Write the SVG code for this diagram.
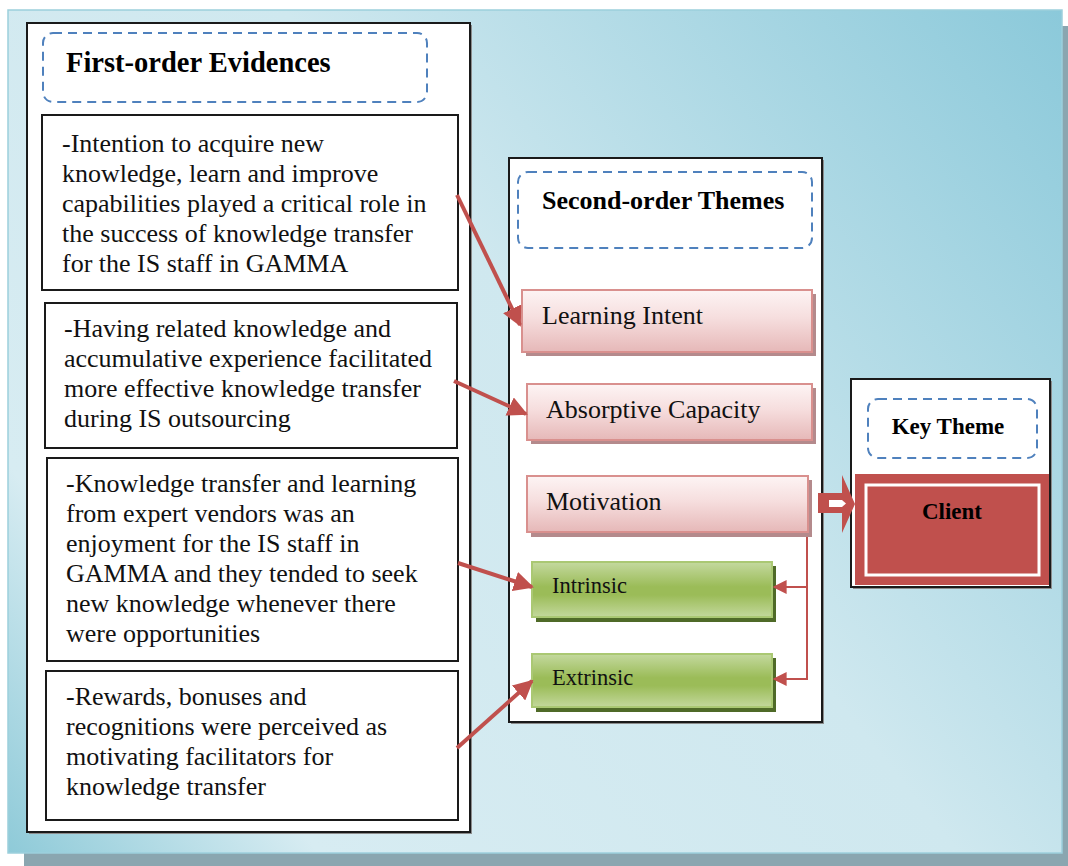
<svg xmlns="http://www.w3.org/2000/svg" width="1068" height="866" viewBox="0 0 1068 866">
  <defs>
    <linearGradient id="bg" gradientUnits="userSpaceOnUse" x1="1062" y1="10" x2="8" y2="853">
      <stop offset="0" stop-color="#8bc9da"/>
      <stop offset="0.45" stop-color="#cfe8ef"/>
      <stop offset="0.82" stop-color="#d7ecf2"/>
      <stop offset="1" stop-color="#8ecad8"/>
    </linearGradient>
    <linearGradient id="pink" x1="0" y1="0" x2="0" y2="1">
      <stop offset="0" stop-color="#fdf4f4"/>
      <stop offset="0.45" stop-color="#f6dede"/>
      <stop offset="1" stop-color="#e6b8b8"/>
    </linearGradient>
    <linearGradient id="green" x1="0" y1="0" x2="0" y2="1">
      <stop offset="0" stop-color="#c4d99f"/>
      <stop offset="0.45" stop-color="#9bbc58"/>
      <stop offset="0.6" stop-color="#9bbc58"/>
      <stop offset="1" stop-color="#c3d89c"/>
    </linearGradient>
    <marker id="head" viewBox="0 0 10 10" refX="9" refY="5" markerWidth="5" markerHeight="5" orient="auto" markerUnits="strokeWidth">
      <path d="M0,0 L10,5 L0,10 z" fill="#c0504d"/>
    </marker>
    <marker id="headThin" viewBox="0 0 10 10" refX="9" refY="5" markerWidth="7" markerHeight="7" orient="auto" markerUnits="strokeWidth">
      <path d="M0,0 L10,5 L0,10 z" fill="#c0504d"/>
    </marker>
    <style>
      .panel { fill: #ffffff; stroke: #1a1a1a; stroke-width: 2; }
      .evid { fill: #ffffff; stroke: #1a1a1a; stroke-width: 2; }
      .shade { fill: #8c8c8c; }
      .dash { fill: #ffffff; stroke: #4f81bd; stroke-width: 2; stroke-dasharray: 9 6; }
      .body { font-family: "Liberation Serif", "Times New Roman", serif; font-size: 26px; fill: #111111; }
      .small { font-size: 22.5px; }
      .head { font-family: "Liberation Serif", "Times New Roman", serif; font-weight: bold; fill: #000000; }
      .pinkbox { fill: url(#pink); stroke: #d9908e; stroke-width: 2; }
      .pinkshadow { fill: #b48a8c; }
      .greenbox { fill: url(#green); stroke: #aac873; stroke-width: 2; }
      .greenshadow { fill: #4f6a28; }
      .link { stroke: #c0504d; stroke-width: 4; fill: none; }
      .thin { stroke: #c0504d; stroke-width: 2; fill: none; }
    </style>
  </defs>

  <!-- background plate with drop shadow -->
  <rect x="24" y="26" width="1044" height="840" fill="#8aa6b0"/>
  <rect x="8" y="10" width="1054" height="843" fill="url(#bg)" stroke="#9ccfdc" stroke-width="1.5"/>

  <!-- first-order evidences column -->
  <g id="first-order">
    <rect x="29" y="25" width="443" height="809" class="shade"/>
    <rect x="27" y="23" width="443" height="809" class="panel"/>
    <rect x="43" y="33" width="384" height="69" rx="10" class="dash"/>
    <text x="66" y="72" class="head" font-size="28.5">First-order Evidences</text>
  </g>

  <g id="evidence-1">
    <rect x="42" y="115" width="416" height="175" class="evid"/>
    <text class="body">
      <tspan x="62" y="152">-Intention to acquire new</tspan>
      <tspan x="62" y="182">knowledge, learn and improve</tspan>
      <tspan x="62" y="212">capabilities played a critical role in</tspan>
      <tspan x="62" y="242">the success of knowledge transfer</tspan>
      <tspan x="62" y="272">for the IS staff in GAMMA</tspan>
    </text>
  </g>

  <g id="evidence-2">
    <rect x="45" y="303" width="412" height="145" class="evid"/>
    <text class="body">
      <tspan x="64" y="337">-Having related knowledge and</tspan>
      <tspan x="64" y="367">accumulative experience facilitated</tspan>
      <tspan x="64" y="397">more effective knowledge transfer</tspan>
      <tspan x="64" y="427">during IS outsourcing</tspan>
    </text>
  </g>

  <g id="evidence-3">
    <rect x="47" y="458" width="411" height="203" class="evid"/>
    <text class="body">
      <tspan x="66" y="492">-Knowledge transfer and learning</tspan>
      <tspan x="66" y="522">from expert vendors was an</tspan>
      <tspan x="66" y="552">enjoyment for the IS staff in</tspan>
      <tspan x="66" y="582">GAMMA and they tended to seek</tspan>
      <tspan x="66" y="612">new knowledge whenever there</tspan>
      <tspan x="66" y="642">were opportunities</tspan>
    </text>
  </g>

  <g id="evidence-4">
    <rect x="46" y="671" width="412" height="149" class="evid"/>
    <text class="body">
      <tspan x="66" y="705">-Rewards, bonuses and</tspan>
      <tspan x="66" y="735">recognitions were perceived as</tspan>
      <tspan x="66" y="765">motivating facilitators for</tspan>
      <tspan x="66" y="795">knowledge transfer</tspan>
    </text>
  </g>

  <!-- second-order themes column -->
  <g id="second-order">
    <rect x="511" y="160" width="313" height="564" class="shade"/>
    <rect x="509" y="158" width="313" height="564" class="panel"/>
    <rect x="518" y="172" width="294" height="76" rx="10" class="dash"/>
    <text x="542" y="209" class="head" font-size="26">Second-order Themes</text>
  </g>

  <g id="learning-intent">
    <rect x="526" y="294" width="290" height="62" class="pinkshadow"/>
    <rect x="522" y="290" width="290" height="62" class="pinkbox"/>
    <text x="542" y="324" class="body">Learning Intent</text>
  </g>

  <g id="absorptive-capacity">
    <rect x="531" y="388" width="285" height="56" class="pinkshadow"/>
    <rect x="527" y="384" width="285" height="56" class="pinkbox"/>
    <text x="546" y="418" class="body">Absorptive Capacity</text>
  </g>

  <g id="motivation">
    <rect x="531" y="480" width="281" height="57" class="pinkshadow"/>
    <rect x="527" y="476" width="281" height="56" class="pinkbox"/>
    <text x="546" y="510" class="body">Motivation</text>
  </g>

  <g id="intrinsic">
    <rect x="536" y="566" width="240" height="56" class="greenshadow"/>
    <rect x="532" y="562" width="240" height="55" class="greenbox"/>
    <text x="552" y="593" class="body small">Intrinsic</text>
  </g>

  <g id="extrinsic">
    <rect x="536" y="658" width="240" height="54" class="greenshadow"/>
    <rect x="532" y="654" width="240" height="53" class="greenbox"/>
    <text x="552" y="685" class="body small">Extrinsic</text>
  </g>

  <!-- key theme column -->
  <g id="key-theme">
    <rect x="853" y="381" width="199" height="208" class="shade"/>
    <rect x="851" y="379" width="199" height="208" class="panel"/>
    <rect x="868" y="399" width="169" height="59" rx="10" class="dash"/>
    <text x="948" y="434" class="head" font-size="23" text-anchor="middle">Key Theme</text>
  </g>

  <g id="client">
    <rect x="855" y="474" width="194" height="111" fill="#c0504d"/>
    <rect x="866" y="485" width="173" height="90" fill="none" stroke="#ffffff" stroke-width="3"/>
    <text x="952" y="519" class="head" font-size="23" text-anchor="middle">Client</text>
  </g>

  <!-- connectors -->
  <g id="connectors">
    <line x1="457" y1="195" x2="520" y2="325" class="link" marker-end="url(#head)"/>
    <line x1="454" y1="381" x2="526" y2="414" class="link" marker-end="url(#head)"/>
    <line x1="458" y1="563" x2="532" y2="587" class="link" marker-end="url(#head)"/>
    <line x1="457" y1="748" x2="532" y2="681" class="link" marker-end="url(#head)"/>

    <polyline points="807,537 807,587 774,587" class="thin" marker-end="url(#headThin)"/>
    <polyline points="807,587 807,679 774,679" class="thin" marker-end="url(#headThin)"/>

    <!-- block arrow from Motivation into Client -->
    <polygon points="818,493 842,493 842,475 855,504 842,533 842,513 818,513" fill="#c0504d"/>
    <polygon points="829,500 842,500 846,503.5 842,507 829,507" fill="#ffffff"/>
  </g>
</svg>
